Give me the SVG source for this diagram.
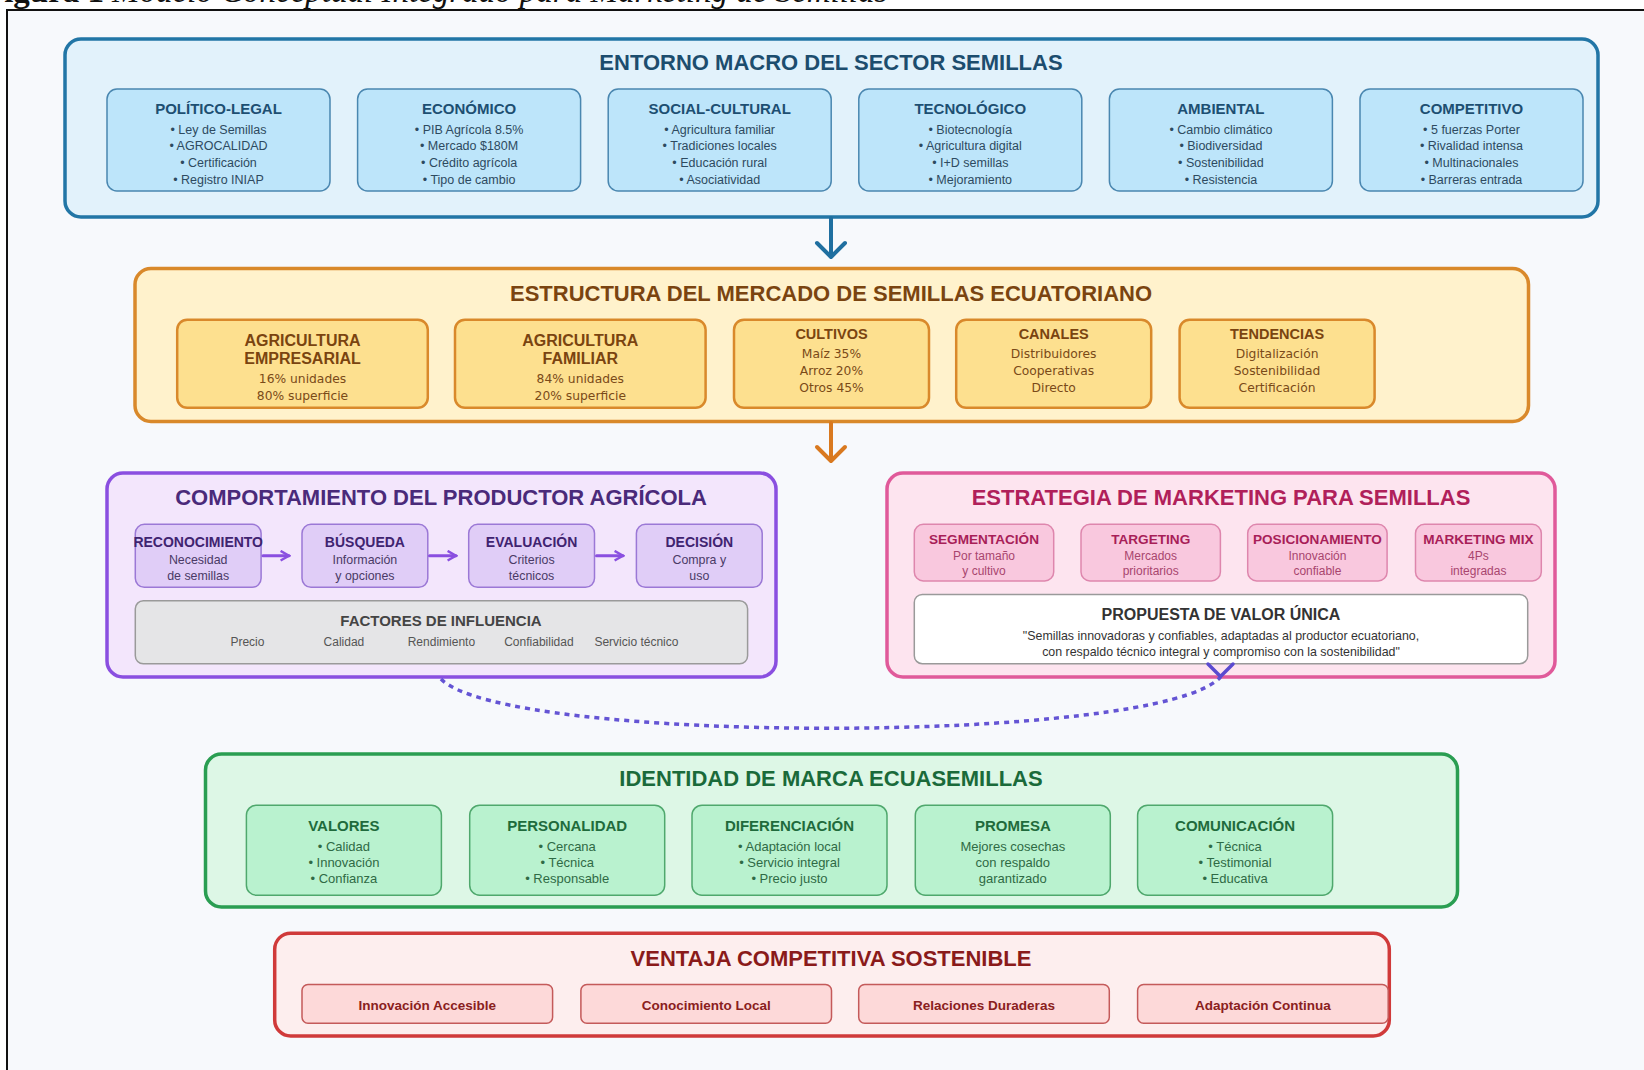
<svg xmlns="http://www.w3.org/2000/svg" width="1644" height="1070" viewBox="0 0 1644 1070">
<style>
text{font-family:"Liberation Sans",Arial,sans-serif;text-anchor:middle}
.big{font-size:22px;font-weight:bold}
.sub{font-size:15px;font-weight:bold}
.it{font-size:12.5px}
.blue .sub{fill:#1d4f72}.blue .it{fill:#2d4a60}
.orange .ot{font-size:16px;font-weight:bold;fill:#7a4410}
.orange .os{font-size:14.5px;font-weight:bold;fill:#7a4410}
.orange .oi{font-family:"DejaVu Sans",Verdana,sans-serif;font-size:12.3px;fill:#7a4a18}
.purple .st{font-size:14px;font-weight:bold;fill:#3f2370}
.purple .si{font-size:12.4px;fill:#4a3a66}
.pink .pt{font-size:13.6px;font-weight:bold;fill:#a81e58}
.pink .pi{font-size:12px;fill:#a8456e}
.green .sub{fill:#1f6b3c}.green .it{font-size:13px;fill:#2f6a45}
.red .ri{font-size:13.5px;font-weight:bold;fill:#8a2020}
</style>
<defs>
<marker id="parr" viewBox="0 0 10 10" refX="8" refY="5" markerWidth="4" markerHeight="4" orient="auto" markerUnits="strokeWidth">
<path d="M1,1 L8,5 L1,9" fill="none" stroke="#8a4fe0" stroke-width="2"/>
</marker>
</defs>
<rect width="1644" height="1070" fill="#ffffff"/>
<rect x="7" y="10" width="1650" height="1080" fill="#f7f9fc" stroke="#111" stroke-width="2"/>
<text x="-16" y="2" style="font-family:'Liberation Serif','Times New Roman',serif;font-size:33px;text-anchor:start;fill:#111"><tspan font-weight="bold">Figura 1</tspan><tspan x="112" font-style="italic">Modelo Conceptual Integrado para Marketing de Semillas</tspan></text>

<g id="entorno-macro" class="blue">
<rect x="65" y="39" width="1533" height="178" rx="16" fill="#e2f2fb" stroke="#2276a6" stroke-width="3.5"/>
<text class="big" x="831" y="70" fill="#1c4d6e">ENTORNO MACRO DEL SECTOR SEMILLAS</text>
<g id="politico-legal"><rect x="107" y="89" width="223" height="102" rx="10" fill="#bde5fa" stroke="#4a87b0" stroke-width="1.5"/>
<text class="sub" x="218.5" y="114">POLÍTICO-LEGAL</text><text class="it" x="218.5" y="133.5">• Ley de Semillas</text><text class="it" x="218.5" y="150.3">• AGROCALIDAD</text><text class="it" x="218.5" y="167">• Certificación</text><text class="it" x="218.5" y="183.8">• Registro INIAP</text></g>
<g id="economico"><rect x="357.6" y="89" width="223" height="102" rx="10" fill="#bde5fa" stroke="#4a87b0" stroke-width="1.5"/>
<text class="sub" x="469.1" y="114">ECONÓMICO</text><text class="it" x="469.1" y="133.5">• PIB Agrícola 8.5%</text><text class="it" x="469.1" y="150.3">• Mercado $180M</text><text class="it" x="469.1" y="167">• Crédito agrícola</text><text class="it" x="469.1" y="183.8">• Tipo de cambio</text></g>
<g id="social-cultural"><rect x="608.2" y="89" width="223" height="102" rx="10" fill="#bde5fa" stroke="#4a87b0" stroke-width="1.5"/>
<text class="sub" x="719.7" y="114">SOCIAL-CULTURAL</text><text class="it" x="719.7" y="133.5">• Agricultura familiar</text><text class="it" x="719.7" y="150.3">• Tradiciones locales</text><text class="it" x="719.7" y="167">• Educación rural</text><text class="it" x="719.7" y="183.8">• Asociatividad</text></g>
<g id="tecnologico"><rect x="858.8" y="89" width="223" height="102" rx="10" fill="#bde5fa" stroke="#4a87b0" stroke-width="1.5"/>
<text class="sub" x="970.3" y="114">TECNOLÓGICO</text><text class="it" x="970.3" y="133.5">• Biotecnología</text><text class="it" x="970.3" y="150.3">• Agricultura digital</text><text class="it" x="970.3" y="167">• I+D semillas</text><text class="it" x="970.3" y="183.8">• Mejoramiento</text></g>
<g id="ambiental"><rect x="1109.4" y="89" width="223" height="102" rx="10" fill="#bde5fa" stroke="#4a87b0" stroke-width="1.5"/>
<text class="sub" x="1220.9" y="114">AMBIENTAL</text><text class="it" x="1220.9" y="133.5">• Cambio climático</text><text class="it" x="1220.9" y="150.3">• Biodiversidad</text><text class="it" x="1220.9" y="167">• Sostenibilidad</text><text class="it" x="1220.9" y="183.8">• Resistencia</text></g>
<g id="competitivo"><rect x="1360" y="89" width="223" height="102" rx="10" fill="#bde5fa" stroke="#4a87b0" stroke-width="1.5"/>
<text class="sub" x="1471.5" y="114">COMPETITIVO</text><text class="it" x="1471.5" y="133.5">• 5 fuerzas Porter</text><text class="it" x="1471.5" y="150.3">• Rivalidad intensa</text><text class="it" x="1471.5" y="167">• Multinacionales</text><text class="it" x="1471.5" y="183.8">• Barreras entrada</text></g>
</g>

<g id="estructura-mercado" class="orange">
<rect x="135" y="268.5" width="1393.5" height="153" rx="16" fill="#fff2cc" stroke="#d9892b" stroke-width="3.5"/>
<text class="big" x="831" y="301" fill="#7a4410">ESTRUCTURA DEL MERCADO DE SEMILLAS ECUATORIANO</text>
<g id="agricultura-empresarial"><rect x="177.2" y="319.8" width="250.6" height="88" rx="10" fill="#fde08f" stroke="#d9892b" stroke-width="2.5"/>
<text class="ot" x="302.5" y="345.5">AGRICULTURA</text><text class="ot" x="302.5" y="363.5">EMPRESARIAL</text><text class="oi" x="302.5" y="383">16% unidades</text><text class="oi" x="302.5" y="400">80% superficie</text></g>
<g id="agricultura-familiar"><rect x="455" y="319.8" width="250.6" height="88" rx="10" fill="#fde08f" stroke="#d9892b" stroke-width="2.5"/>
<text class="ot" x="580.3" y="345.5">AGRICULTURA</text><text class="ot" x="580.3" y="363.5">FAMILIAR</text><text class="oi" x="580.3" y="383">84% unidades</text><text class="oi" x="580.3" y="400">20% superficie</text></g>
<g id="cultivos"><rect x="734" y="319.8" width="195" height="88" rx="10" fill="#fde08f" stroke="#d9892b" stroke-width="2.5"/>
<text class="os" x="831.5" y="338.5">CULTIVOS</text><text class="oi" x="831.5" y="358">Maíz 35%</text><text class="oi" x="831.5" y="374.5">Arroz 20%</text><text class="oi" x="831.5" y="391.5">Otros 45%</text></g>
<g id="canales"><rect x="956.2" y="319.8" width="195" height="88" rx="10" fill="#fde08f" stroke="#d9892b" stroke-width="2.5"/>
<text class="os" x="1053.7" y="338.5">CANALES</text><text class="oi" x="1053.7" y="358">Distribuidores</text><text class="oi" x="1053.7" y="374.5">Cooperativas</text><text class="oi" x="1053.7" y="391.5">Directo</text></g>
<g id="tendencias"><rect x="1179.6" y="319.8" width="195" height="88" rx="10" fill="#fde08f" stroke="#d9892b" stroke-width="2.5"/>
<text class="os" x="1277.1" y="338.5">TENDENCIAS</text><text class="oi" x="1277.1" y="358">Digitalización</text><text class="oi" x="1277.1" y="374.5">Sostenibilidad</text><text class="oi" x="1277.1" y="391.5">Certificación</text></g>
</g>

<g id="comportamiento-productor" class="purple">
<rect x="107" y="473" width="669" height="204" rx="16" fill="#f3e6fc" stroke="#8a4fe0" stroke-width="3.5"/>
<text class="big" x="441" y="505" fill="#4a2a7a">COMPORTAMIENTO DEL PRODUCTOR AGRÍCOLA</text>
<g id="reconocimiento"><rect x="135.3" y="524.3" width="125.8" height="63" rx="9" fill="#e0cdf7" stroke="#9b78d6" stroke-width="1.5"/>
<text class="st" x="198.2" y="547">RECONOCIMIENTO</text><text class="si" x="198.2" y="564">Necesidad</text><text class="si" x="198.2" y="580">de semillas</text></g>
<g id="busqueda"><rect x="302" y="524.3" width="125.8" height="63" rx="9" fill="#e0cdf7" stroke="#9b78d6" stroke-width="1.5"/>
<text class="st" x="364.9" y="547">BÚSQUEDA</text><text class="si" x="364.9" y="564">Información</text><text class="si" x="364.9" y="580">y opciones</text></g>
<g id="evaluacion"><rect x="468.7" y="524.3" width="125.8" height="63" rx="9" fill="#e0cdf7" stroke="#9b78d6" stroke-width="1.5"/>
<text class="st" x="531.6" y="547">EVALUACIÓN</text><text class="si" x="531.6" y="564">Criterios</text><text class="si" x="531.6" y="580">técnicos</text></g>
<g id="decision"><rect x="636.4" y="524.3" width="125.8" height="63" rx="9" fill="#e0cdf7" stroke="#9b78d6" stroke-width="1.5"/>
<text class="st" x="699.3" y="547">DECISIÓN</text><text class="si" x="699.3" y="564">Compra y</text><text class="si" x="699.3" y="580">uso</text></g>
<g id="factores-influencia"><rect x="135.3" y="600.8" width="612.3" height="63" rx="8" fill="#e5e5e7" stroke="#9a9a9a" stroke-width="1.5"/>
<text x="441" y="626" style="font-size:15px;font-weight:bold;fill:#444">FACTORES DE INFLUENCIA</text>
<text x="247.4" y="646" style="font-size:12px;fill:#555">Precio</text><text x="343.9" y="646" style="font-size:12px;fill:#555">Calidad</text><text x="441.4" y="646" style="font-size:12px;fill:#555">Rendimiento</text><text x="538.9" y="646" style="font-size:12px;fill:#555">Confiabilidad</text><text x="636.4" y="646" style="font-size:12px;fill:#555">Servicio técnico</text></g>
</g>

<g id="estrategia-marketing" class="pink">
<rect x="887" y="473" width="668" height="204" rx="16" fill="#fde4ef" stroke="#e05a9a" stroke-width="3.5"/>
<text class="big" x="1221" y="505" fill="#b0205a">ESTRATEGIA DE MARKETING PARA SEMILLAS</text>
<g id="segmentacion"><rect x="914.3" y="524.3" width="139.4" height="56.6" rx="9" fill="#f9c8de" stroke="#de86ad" stroke-width="1.5"/>
<text class="pt" x="984" y="544">SEGMENTACIÓN</text><text class="pi" x="984" y="560">Por tamaño</text><text class="pi" x="984" y="574.5">y cultivo</text></g>
<g id="targeting"><rect x="1081" y="524.3" width="139.4" height="56.6" rx="9" fill="#f9c8de" stroke="#de86ad" stroke-width="1.5"/>
<text class="pt" x="1150.7" y="544">TARGETING</text><text class="pi" x="1150.7" y="560">Mercados</text><text class="pi" x="1150.7" y="574.5">prioritarios</text></g>
<g id="posicionamiento"><rect x="1247.7" y="524.3" width="139.4" height="56.6" rx="9" fill="#f9c8de" stroke="#de86ad" stroke-width="1.5"/>
<text class="pt" x="1317.4" y="544">POSICIONAMIENTO</text><text class="pi" x="1317.4" y="560">Innovación</text><text class="pi" x="1317.4" y="574.5">confiable</text></g>
<g id="marketing-mix"><rect x="1415.5" y="524.3" width="125.8" height="56.6" rx="9" fill="#f9c8de" stroke="#de86ad" stroke-width="1.5"/>
<text class="pt" x="1478.4" y="544">MARKETING MIX</text><text class="pi" x="1478.4" y="560">4Ps</text><text class="pi" x="1478.4" y="574.5">integradas</text></g>
<g id="propuesta-valor"><rect x="914.3" y="594.5" width="613.4" height="69.2" rx="8" fill="#ffffff" stroke="#9a9a9a" stroke-width="1.5"/>
<text x="1221" y="620" style="font-size:16px;font-weight:bold;fill:#333">PROPUESTA DE VALOR ÚNICA</text>
<text x="1221" y="640" style="font-size:12.4px;fill:#333">"Semillas innovadoras y confiables, adaptadas al productor ecuatoriano,</text>
<text x="1221" y="656" style="font-size:12.4px;fill:#333">con respaldo técnico integral y compromiso con la sostenibilidad"</text></g>
</g>

<g id="identidad-marca" class="green">
<rect x="205.5" y="754" width="1252" height="153" rx="16" fill="#ddf7e6" stroke="#2a9e52" stroke-width="3.5"/>
<text class="big" x="831" y="786" fill="#1a6a3a">IDENTIDAD DE MARCA ECUASEMILLAS</text>
<g id="valores"><rect x="246.4" y="805.2" width="195" height="90" rx="10" fill="#b9f2cf" stroke="#4fa86d" stroke-width="1.5"/>
<text class="sub" x="343.9" y="830.5">VALORES</text><text class="it" x="343.9" y="850.5">• Calidad</text><text class="it" x="343.9" y="866.5">• Innovación</text><text class="it" x="343.9" y="883">• Confianza</text></g>
<g id="personalidad"><rect x="469.7" y="805.2" width="195" height="90" rx="10" fill="#b9f2cf" stroke="#4fa86d" stroke-width="1.5"/>
<text class="sub" x="567.2" y="830.5">PERSONALIDAD</text><text class="it" x="567.2" y="850.5">• Cercana</text><text class="it" x="567.2" y="866.5">• Técnica</text><text class="it" x="567.2" y="883">• Responsable</text></g>
<g id="diferenciacion"><rect x="692" y="805.2" width="195" height="90" rx="10" fill="#b9f2cf" stroke="#4fa86d" stroke-width="1.5"/>
<text class="sub" x="789.5" y="830.5">DIFERENCIACIÓN</text><text class="it" x="789.5" y="850.5">• Adaptación local</text><text class="it" x="789.5" y="866.5">• Servicio integral</text><text class="it" x="789.5" y="883">• Precio justo</text></g>
<g id="promesa"><rect x="915.3" y="805.2" width="195" height="90" rx="10" fill="#b9f2cf" stroke="#4fa86d" stroke-width="1.5"/>
<text class="sub" x="1012.8" y="830.5">PROMESA</text><text class="it" x="1012.8" y="850.5">Mejores cosechas</text><text class="it" x="1012.8" y="866.5">con respaldo</text><text class="it" x="1012.8" y="883">garantizado</text></g>
<g id="comunicacion"><rect x="1137.6" y="805.2" width="195" height="90" rx="10" fill="#b9f2cf" stroke="#4fa86d" stroke-width="1.5"/>
<text class="sub" x="1235.1" y="830.5">COMUNICACIÓN</text><text class="it" x="1235.1" y="850.5">• Técnica</text><text class="it" x="1235.1" y="866.5">• Testimonial</text><text class="it" x="1235.1" y="883">• Educativa</text></g>
</g>

<g id="ventaja-competitiva" class="red">
<rect x="274.7" y="933.2" width="1114.6" height="102.7" rx="16" fill="#fdeeee" stroke="#d03a3a" stroke-width="3.5"/>
<text class="big" x="831" y="966" fill="#8a1a1a">VENTAJA COMPETITIVA SOSTENIBLE</text>
<g id="innovacion-accesible"><rect x="302" y="984.5" width="250.6" height="38.8" rx="6" fill="#fdd9d9" stroke="#c45a5a" stroke-width="1.5"/><text class="ri" x="427.3" y="1010">Innovación Accesible</text></g>
<g id="conocimiento-local"><rect x="580.9" y="984.5" width="250.6" height="38.8" rx="6" fill="#fdd9d9" stroke="#c45a5a" stroke-width="1.5"/><text class="ri" x="706.2" y="1010">Conocimiento Local</text></g>
<g id="relaciones-duraderas"><rect x="858.7" y="984.5" width="250.6" height="38.8" rx="6" fill="#fdd9d9" stroke="#c45a5a" stroke-width="1.5"/><text class="ri" x="984" y="1010">Relaciones Duraderas</text></g>
<g id="adaptacion-continua"><rect x="1137.6" y="984.5" width="250.6" height="38.8" rx="6" fill="#fdd9d9" stroke="#c45a5a" stroke-width="1.5"/><text class="ri" x="1262.9" y="1010">Adaptación Continua</text></g>
</g>

<g id="connectors" fill="none" stroke-linecap="round" stroke-linejoin="round">
<line x1="831" y1="218" x2="831" y2="256" stroke="#1f6fa0" stroke-width="4"/>
<polyline points="817,243 831,257 845,243" stroke="#1f6fa0" stroke-width="4"/>
<line x1="831" y1="423" x2="831" y2="460" stroke="#d9791f" stroke-width="4"/>
<polyline points="817,447 831,461 845,447" stroke="#d9791f" stroke-width="4"/>
<line x1="263" y1="555.7" x2="289" y2="555.7" stroke="#8a4fe0" stroke-width="3" marker-end="url(#parr)"/>
<line x1="429.5" y1="555.7" x2="456" y2="555.7" stroke="#8a4fe0" stroke-width="3" marker-end="url(#parr)"/>
<line x1="596.5" y1="555.7" x2="623" y2="555.7" stroke="#8a4fe0" stroke-width="3" marker-end="url(#parr)"/>
<path d="M441,679 C505,745 1160,745 1220.5,677" stroke="#6454d4" stroke-width="3.5" stroke-dasharray="5 5" stroke-linecap="butt"/>
<polyline points="1208,664 1220.5,676.5 1233,664" stroke="#5a4ad0" stroke-width="3.5"/>
</g>
</svg>
